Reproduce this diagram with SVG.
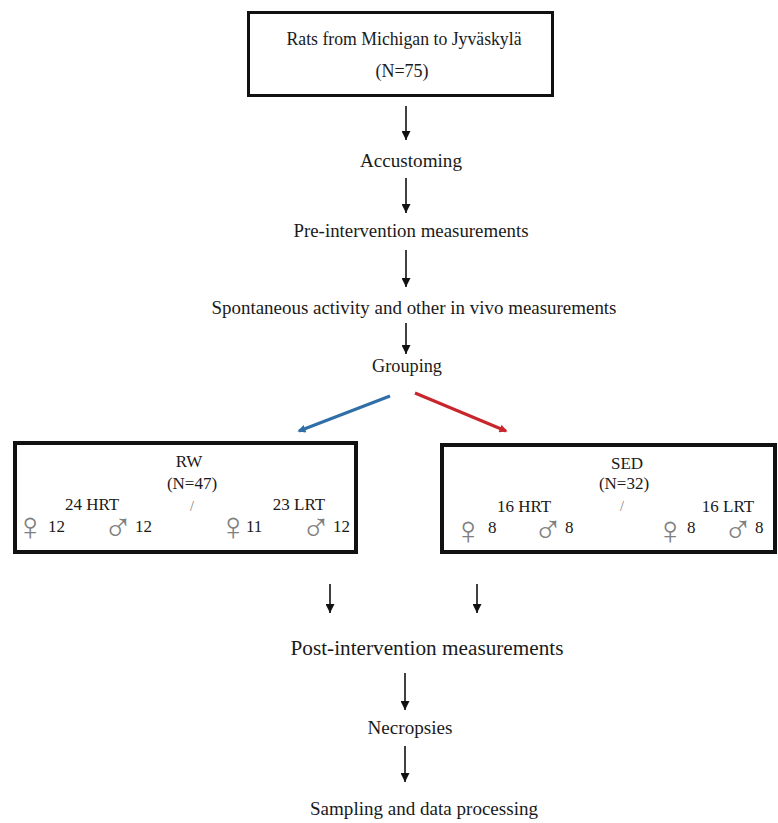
<svg xmlns="http://www.w3.org/2000/svg" width="778" height="823" viewBox="0 0 778 823">
<style>
text{font-family:"Liberation Serif","Times New Roman",serif;fill:#1a1a1a;}
.c{text-anchor:middle;}
.box{fill:#fff;stroke:#111;}
.sym{font-family:"Liberation Serif","DejaVu Sans",serif;fill:#808080;font-size:40px;text-anchor:middle;}
.n{font-size:17px;}
.ar{stroke:#111;stroke-width:1.6;fill:none;marker-end:url(#ah);}
</style>
<defs>
<marker id="ah" viewBox="0 0 10 10" refX="10" refY="5" markerUnits="userSpaceOnUse" markerWidth="9" markerHeight="9" orient="auto"><path d="M0,0 L10,5 L0,10 z" fill="#111"/></marker>
<marker id="ahb" viewBox="0 0 10 10" refX="8" refY="5" markerUnits="userSpaceOnUse" markerWidth="9" markerHeight="8" orient="auto"><path d="M0,0 L10,5 L0,10 z" fill="#2f6ea6"/></marker>
<marker id="ahr" viewBox="0 0 10 10" refX="8" refY="5" markerUnits="userSpaceOnUse" markerWidth="9" markerHeight="8" orient="auto"><path d="M0,0 L10,5 L0,10 z" fill="#c8262c"/></marker>
</defs>
<rect width="778" height="823" fill="#fff"/>
<g id="connectors">
<line class="ar" x1="406" y1="106" x2="406" y2="140"/>
<line class="ar" x1="406" y1="178" x2="406" y2="213"/>
<line class="ar" x1="406" y1="250" x2="406" y2="287"/>
<line class="ar" x1="406" y1="323" x2="406" y2="354"/>
<line x1="390" y1="396" x2="299" y2="431" stroke="#2f6ea6" stroke-width="3" marker-end="url(#ahb)"/>
<line x1="415" y1="393" x2="506" y2="431" stroke="#c8262c" stroke-width="3" marker-end="url(#ahr)"/>
<line class="ar" x1="330" y1="584" x2="330" y2="613"/>
<line class="ar" x1="477" y1="584" x2="477" y2="613"/>
<line class="ar" x1="405" y1="673" x2="405" y2="710"/>
<line class="ar" x1="405" y1="746" x2="405" y2="782"/>
</g>
<g id="start">
<rect class="box" x="248.5" y="12.5" width="304" height="83" stroke-width="3"/>
<text class="c" x="404" y="45" font-size="18" textLength="235" lengthAdjust="spacingAndGlyphs">Rats from Michigan to Jyväskylä</text>
<text class="c" x="402" y="77" font-size="18">(N=75)</text>
</g>
<g id="accustoming"><text class="c" x="411" y="167" font-size="19" textLength="102" lengthAdjust="spacingAndGlyphs">Accustoming</text></g>
<g id="pre"><text class="c" x="411" y="237" font-size="18.5" textLength="235" lengthAdjust="spacingAndGlyphs">Pre-intervention measurements</text></g>
<g id="spontaneous"><text class="c" x="414" y="314" font-size="19" textLength="405" lengthAdjust="spacingAndGlyphs">Spontaneous activity and other in vivo measurements</text></g>
<g id="grouping"><text class="c" x="407" y="372" font-size="18" textLength="70" lengthAdjust="spacingAndGlyphs">Grouping</text></g>
<g id="rw">
<rect class="box" x="15" y="443" width="341" height="109" stroke-width="4"/>
<text class="c n" x="189" y="467">RW</text>
<text class="c n" x="192" y="489">(N=47)</text>
<text class="c" x="192" y="511" font-size="14" style="fill:#777">/</text>
<text class="c n" x="92" y="510">24 HRT</text>
<text class="c n" x="299" y="510">23 LRT</text>
<text class="sym" x="30" y="540">♀</text>
<text class="n" x="48" y="532">12</text>
<text class="sym" x="118" y="541">♂</text>
<text class="n" x="135" y="532">12</text>
<text class="sym" x="233" y="540">♀</text>
<text class="n" x="246" y="532">11</text>
<text class="sym" x="316" y="541">♂</text>
<text class="n" x="333" y="532">12</text>
</g>
<g id="sed">
<rect class="box" x="442" y="445" width="333" height="107" stroke-width="4"/>
<text class="c n" x="627" y="469">SED</text>
<text class="c n" x="624" y="489">(N=32)</text>
<text class="c" x="622" y="511" font-size="14" style="fill:#777">/</text>
<text class="c n" x="524" y="512">16 HRT</text>
<text class="c n" x="728" y="512">16 LRT</text>
<text class="sym" x="468" y="544">♀</text>
<text class="n" x="488" y="533">8</text>
<text class="sym" x="548" y="543">♂</text>
<text class="n" x="565" y="533">8</text>
<text class="sym" x="670" y="544">♀</text>
<text class="n" x="687" y="533">8</text>
<text class="sym" x="738" y="543">♂</text>
<text class="n" x="755" y="533">8</text>
</g>
<g id="post"><text class="c" x="427" y="655" font-size="20.5" textLength="273" lengthAdjust="spacingAndGlyphs">Post-intervention measurements</text></g>
<g id="necropsies"><text class="c" x="410" y="734" font-size="19" textLength="85" lengthAdjust="spacingAndGlyphs">Necropsies</text></g>
<g id="sampling"><text class="c" x="424" y="815" font-size="19" textLength="228" lengthAdjust="spacingAndGlyphs">Sampling and data processing</text></g>
</svg>
